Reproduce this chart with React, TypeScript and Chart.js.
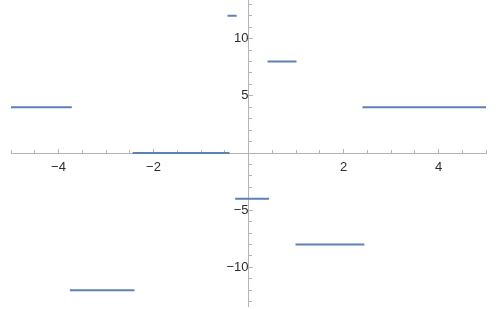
import React, { useEffect, useRef } from 'react';
import { Chart, registerables } from 'chart.js';

Chart.register(...registerables);

// Piecewise-constant segments: start x, end x, level y
const segStart = [-5, -3.76, -2.44, -0.44, -0.28, 0.4, 0.99, 2.4];
const segEnd = [-3.72, -2.4, -0.4, -0.25, 0.43, 1.01, 2.44, 5];
const segLevel = [4, -12, 0, 12, -4, 8, -8, 4];

const xMajor = [-4, -2, 2, 4];
const xMinor = [-5, -4.5, -4, -3.5, -3, -2.5, -2, -1.5, -1, -0.5, 0.5, 1, 1.5, 2, 2.5, 3, 3.5, 4, 4.5, 5];
const yMajor = [-10, -5, 5, 10];
const yMinor = [-13, -12, -11, -10, -9, -8, -7, -6, -5, -4, -3, -2, -1, 1, 2, 3, 4, 5, 6, 7, 8, 9, 10, 11, 12, 13];

const X_MIN = -5;
const X_MAX = 5;
const Y_MIN = -13.37;
const Y_MAX = 13.37;

const AXIS = '#b4b4b4';
const LINE = '#5e81b5';
const TEXT = '#2b2b2b';
const FONT = { family: 'Liberation Sans, Arial, sans-serif', size: 13 };

const fmt = (v: number) => (v < 0 ? '\u2212' + Math.abs(v) : String(v));

const noPad = (s: any) => {
  s.paddingTop = 0;
  s.paddingBottom = 0;
  s.paddingLeft = 0;
  s.paddingRight = 0;
};

export default function App() {
  const ref = useRef<HTMLCanvasElement | null>(null);
  useEffect(() => {
    document.body.style.margin = '0';
    const canvas = ref.current;
    if (!canvas) return;
    const pts: { x: number; y: number | null }[] = [];
    for (let i = 0; i < segLevel.length; i++) {
      pts.push({ x: segStart[i], y: segLevel[i] });
      pts.push({ x: segEnd[i], y: segLevel[i] });
      pts.push({ x: segEnd[i], y: null });
    }
    const chart = new Chart(canvas, {
      type: 'line',
      data: {
        datasets: [
          {
            data: pts as any,
            borderColor: LINE,
            borderWidth: 2,
            pointRadius: 0,
            spanGaps: false,
            tension: 0,
            fill: false,
          },
        ],
      },
      options: {
        animation: false,
        responsive: false,
        devicePixelRatio: 1,
        layout: { padding: { left: 11, right: 12, top: 0, bottom: 3 } },
        plugins: { legend: { display: false }, tooltip: { enabled: false } },
        scales: {
          x: {
            type: 'linear',
            min: X_MIN,
            max: X_MAX,
            position: { y: 0 } as any,
            afterBuildTicks: (axis: any) => {
              axis.ticks = xMajor.map((v) => ({ value: v }));
            },
            afterFit: noPad,
            grid: { display: true, drawOnChartArea: false, drawTicks: true, tickLength: -5, tickColor: AXIS, color: AXIS },
            border: { display: true, color: AXIS, width: 1 },
            ticks: { padding: 12, color: TEXT, font: FONT, callback: (v: any) => fmt(Number(v)), autoSkip: false, maxRotation: 0 },
          },
          x2: {
            type: 'linear',
            axis: 'x',
            min: X_MIN,
            max: X_MAX,
            position: { y: 0 } as any,
            afterBuildTicks: (axis: any) => {
              axis.ticks = xMinor.map((v) => ({ value: v }));
            },
            afterFit: noPad,
            grid: { display: true, drawOnChartArea: false, drawTicks: true, tickLength: -3, tickColor: AXIS },
            border: { display: false },
            ticks: { display: false },
          },
          y: {
            type: 'linear',
            min: Y_MIN,
            max: Y_MAX,
            position: { x: 0 } as any,
            afterBuildTicks: (axis: any) => {
              axis.ticks = yMajor.map((v) => ({ value: v }));
            },
            afterFit: noPad,
            grid: { display: true, drawOnChartArea: false, drawTicks: true, tickLength: -5, tickColor: AXIS, color: AXIS },
            border: { display: true, color: AXIS, width: 1 },
            ticks: { padding: 10, color: TEXT, font: FONT, callback: (v: any) => fmt(Number(v)), autoSkip: false },
          },
          y2: {
            type: 'linear',
            axis: 'y',
            min: Y_MIN,
            max: Y_MAX,
            position: { x: 0 } as any,
            afterBuildTicks: (axis: any) => {
              axis.ticks = yMinor.map((v) => ({ value: v }));
            },
            afterFit: noPad,
            grid: { display: true, drawOnChartArea: false, drawTicks: true, tickLength: -3, tickColor: AXIS },
            border: { display: false },
            ticks: { display: false },
          },
        },
      },
    });
    return () => chart.destroy();
  }, []);
  return (
    <div style={{ width: 498, height: 309 }}>
      <canvas ref={ref} width={498} height={309} style={{ display: 'block' }} />
    </div>
  );
}
